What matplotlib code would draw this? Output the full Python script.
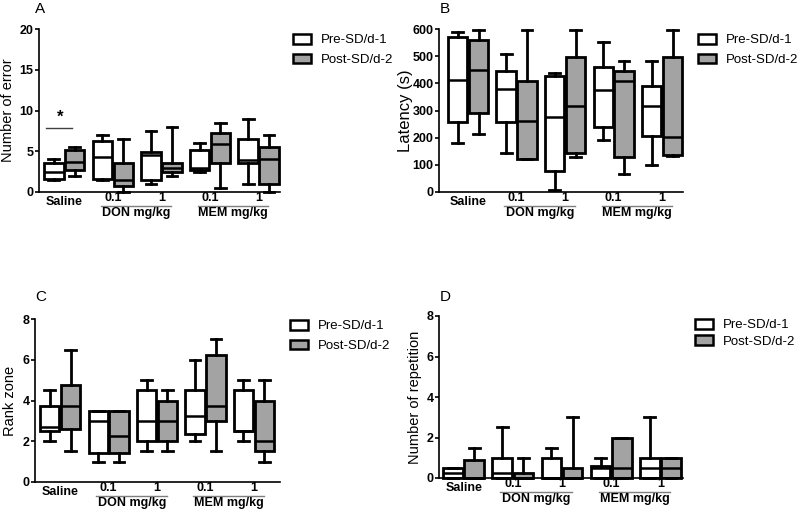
import matplotlib
matplotlib.use("Agg")
import matplotlib.pyplot as plt
from matplotlib.patches import Patch

plt.rcParams['font.family'] = ['Liberation Sans', 'DejaVu Sans']

# box statistics per group: (min, q1, median, q3, max)
groups = ['Saline', 'DON 0.1', 'DON 1', 'MEM 0.1', 'MEM 1']
tick_text = ['Saline', '0.1', '1', '0.1', '1']
series_names = ['Pre-SD/d-1', 'Post-SD/d-2']

err_pre = [(1.5, 1.6, 2.5, 3.5, 4.0), (1.5, 1.6, 4.3, 6.2, 7.0), (1.0, 1.5, 4.6, 4.9, 7.5),
           (2.5, 2.7, 2.9, 5.2, 6.0), (1.0, 3.5, 3.9, 6.5, 9.0)]
err_post = [(2.0, 2.7, 3.7, 5.2, 5.5), (0.0, 0.7, 1.5, 3.5, 6.5), (2.0, 2.5, 3.0, 3.5, 8.0),
            (0.5, 3.5, 5.9, 7.3, 8.5), (0.0, 1.0, 4.0, 5.5, 7.0)]

lat_pre = [(180, 258, 412, 570, 588), (144, 259, 379, 447, 508), (6, 79, 276, 428, 438),
           (193, 238, 377, 460, 552), (98, 206, 315, 389, 483)]
lat_post = [(213, 291, 448, 560, 598), (123, 123, 263, 410, 598), (128, 144, 315, 496, 598),
            (67, 129, 410, 447, 483), (134, 137, 201, 496, 598)]

rank_pre = [(2.0, 2.5, 2.7, 3.75, 4.5), (1.0, 1.4, 3.0, 3.5, 3.5), (1.5, 2.0, 3.0, 4.5, 5.0),
            (2.0, 2.35, 3.25, 4.5, 6.0), (2.0, 2.5, 2.5, 4.5, 5.0)]
rank_post = [(1.5, 2.6, 3.75, 4.75, 6.5), (1.0, 1.4, 2.25, 3.5, 3.5), (1.5, 2.0, 3.0, 4.0, 4.5),
             (1.5, 3.0, 3.75, 6.25, 7.0), (1.0, 1.5, 2.0, 4.0, 5.0)]

rep_pre = [(0, 0, 0.25, 0.5, 0.5), (0, 0, 0.25, 1.0, 2.5), (0, 0, 0, 1.0, 1.5),
           (0, 0, 0.5, 0.6, 1.0), (0, 0, 0.5, 1.0, 3.0)]
rep_post = [(0, 0, 0, 0.9, 1.5), (0, 0, 0, 0.25, 1.0), (0, 0, 0, 0.5, 3.0),
            (0, 0, 0.5, 2.0, 2.0), (0, 0, 0.5, 1.0, 1.0)]

W, H = 800, 512
GRAY = '#a3a3a3'


def fx(px):
    return px / W


def fy(py):
    return 1 - py / H


def stats(rows):
    return [dict(whislo=r[0], q1=r[1], med=r[2], q3=r[3], whishi=r[4], fliers=[]) for r in rows]


def panel(rect_px, letter, letter_px, ylabel, ylab_x, ylab_size, ylim, yticks, pre, post, xlim, leg_px, leg_space):
    l, t, r, b = rect_px
    ax = fig.add_axes([fx(l), fy(b), (r - l) / W, (b - t) / H])
    xs = list(range(len(groups)))
    for rows, off, col in [(pre, -0.215, 'white'), (post, 0.215, GRAY)]:
        art = ax.bxp(stats(rows), positions=[x + off for x in xs], widths=0.4,
                     patch_artist=True, showfliers=False, capwidths=0.22, manage_ticks=False,
                     boxprops=dict(facecolor=col, edgecolor='black', linewidth=2.0),
                     medianprops=dict(color='black', linewidth=1.8),
                     whiskerprops=dict(color='black', linewidth=2.0),
                     capprops=dict(color='black', linewidth=2.0))
        for k in art:
            for a in art[k]:
                a.set_clip_on(False)
    ax.set_xlim(*xlim)
    ax.set_ylim(*ylim)
    ax.set_yticks(yticks)
    ax.set_xticks([])
    for s in ['top', 'right']:
        ax.spines[s].set_visible(False)
    for s in ['left', 'bottom']:
        ax.spines[s].set_linewidth(1.2)
    ax.tick_params(axis='y', length=3, width=1.2, labelsize=9, pad=1)
    for lab in ax.get_yticklabels():
        lab.set_fontweight('bold')
    ax.set_ylabel(ylabel, fontsize=ylab_size)
    ax.yaxis.set_label_coords(ylab_x, 0.5)

    # group labels under the axis
    for x, txt in zip(xs, tick_text):
        dy = -10 if txt == 'Saline' else -6
        ax.annotate(txt, xy=(x, 0), xycoords=('data', 'axes fraction'),
                    xytext=(0, dy * 0.72), textcoords='offset points',
                    ha='center', va='center', fontsize=9, fontweight='bold')
    for (a, c), name in [((1, 2), 'DON mg/kg'), ((3, 4), 'MEM mg/kg')]:
        ax.plot([a - 0.25, c + 0.2], [-0.085, -0.085], transform=ax.get_xaxis_transform(),
                color='#7f7f7f', lw=1.0, clip_on=False)
        ax.annotate(name, xy=((a + c) / 2 - 0.02, 0), xycoords=('data', 'axes fraction'),
                    xytext=(0, -21 * 0.72), textcoords='offset points',
                    ha='center', va='center', fontsize=9, fontweight='bold')

    fig.text(fx(letter_px[0]), fy(letter_px[1]), letter, fontsize=11, ha='left', va='bottom')

    handles = [Patch(facecolor='white', edgecolor='black', linewidth=1.8),
               Patch(facecolor=GRAY, edgecolor='black', linewidth=1.8)]
    fig.legend(handles, series_names, loc='upper left', bbox_to_anchor=(fx(leg_px[0]), fy(leg_px[1])),
               frameon=False, fontsize=9.5, handlelength=1.4, handleheight=0.75, handletextpad=0.7,
               labelspacing=leg_space, borderpad=0, borderaxespad=0)
    return ax


fig = plt.figure(figsize=(8, 5.12), dpi=100)

axA = panel((39, 29, 280, 192), 'A', (35, 16), 'Number of error', -0.1, 10.5, (0, 20), [0, 5, 10, 15, 20],
            err_pre, err_post, (-0.52, 4.44), (293, 34), 0.55)
# significance mark over saline
axA.plot([-0.37, 0.16], [7.9, 7.9], color='#404040', lw=1.0)
axA.text(-0.08, 8.3, '*', ha='center', va='bottom', fontsize=12, fontweight='bold')

panel((439, 29, 683, 192), 'B', (440, 16), 'Latency (s)', -0.105, 12, (0, 600), [0, 100, 200, 300, 400, 500, 600],
      lat_pre, lat_post, (-0.6, 4.43), (698, 34), 0.55)

panel((35, 319, 280, 482), 'C', (35, 304), 'Rank zone', -0.073, 10.5, (0, 8), [0, 2, 4, 6, 8],
      rank_pre, rank_post, (-0.52, 4.54), (290, 320), 0.55)

panel((439, 316, 683, 478), 'D', (440, 304), 'Number of repetition', -0.07, 10.5, (0, 8), [0, 2, 4, 6, 8],
      rep_pre, rep_post, (-0.5, 4.46), (695, 319), 0.3)

fig.savefig('out.png', dpi=100)
